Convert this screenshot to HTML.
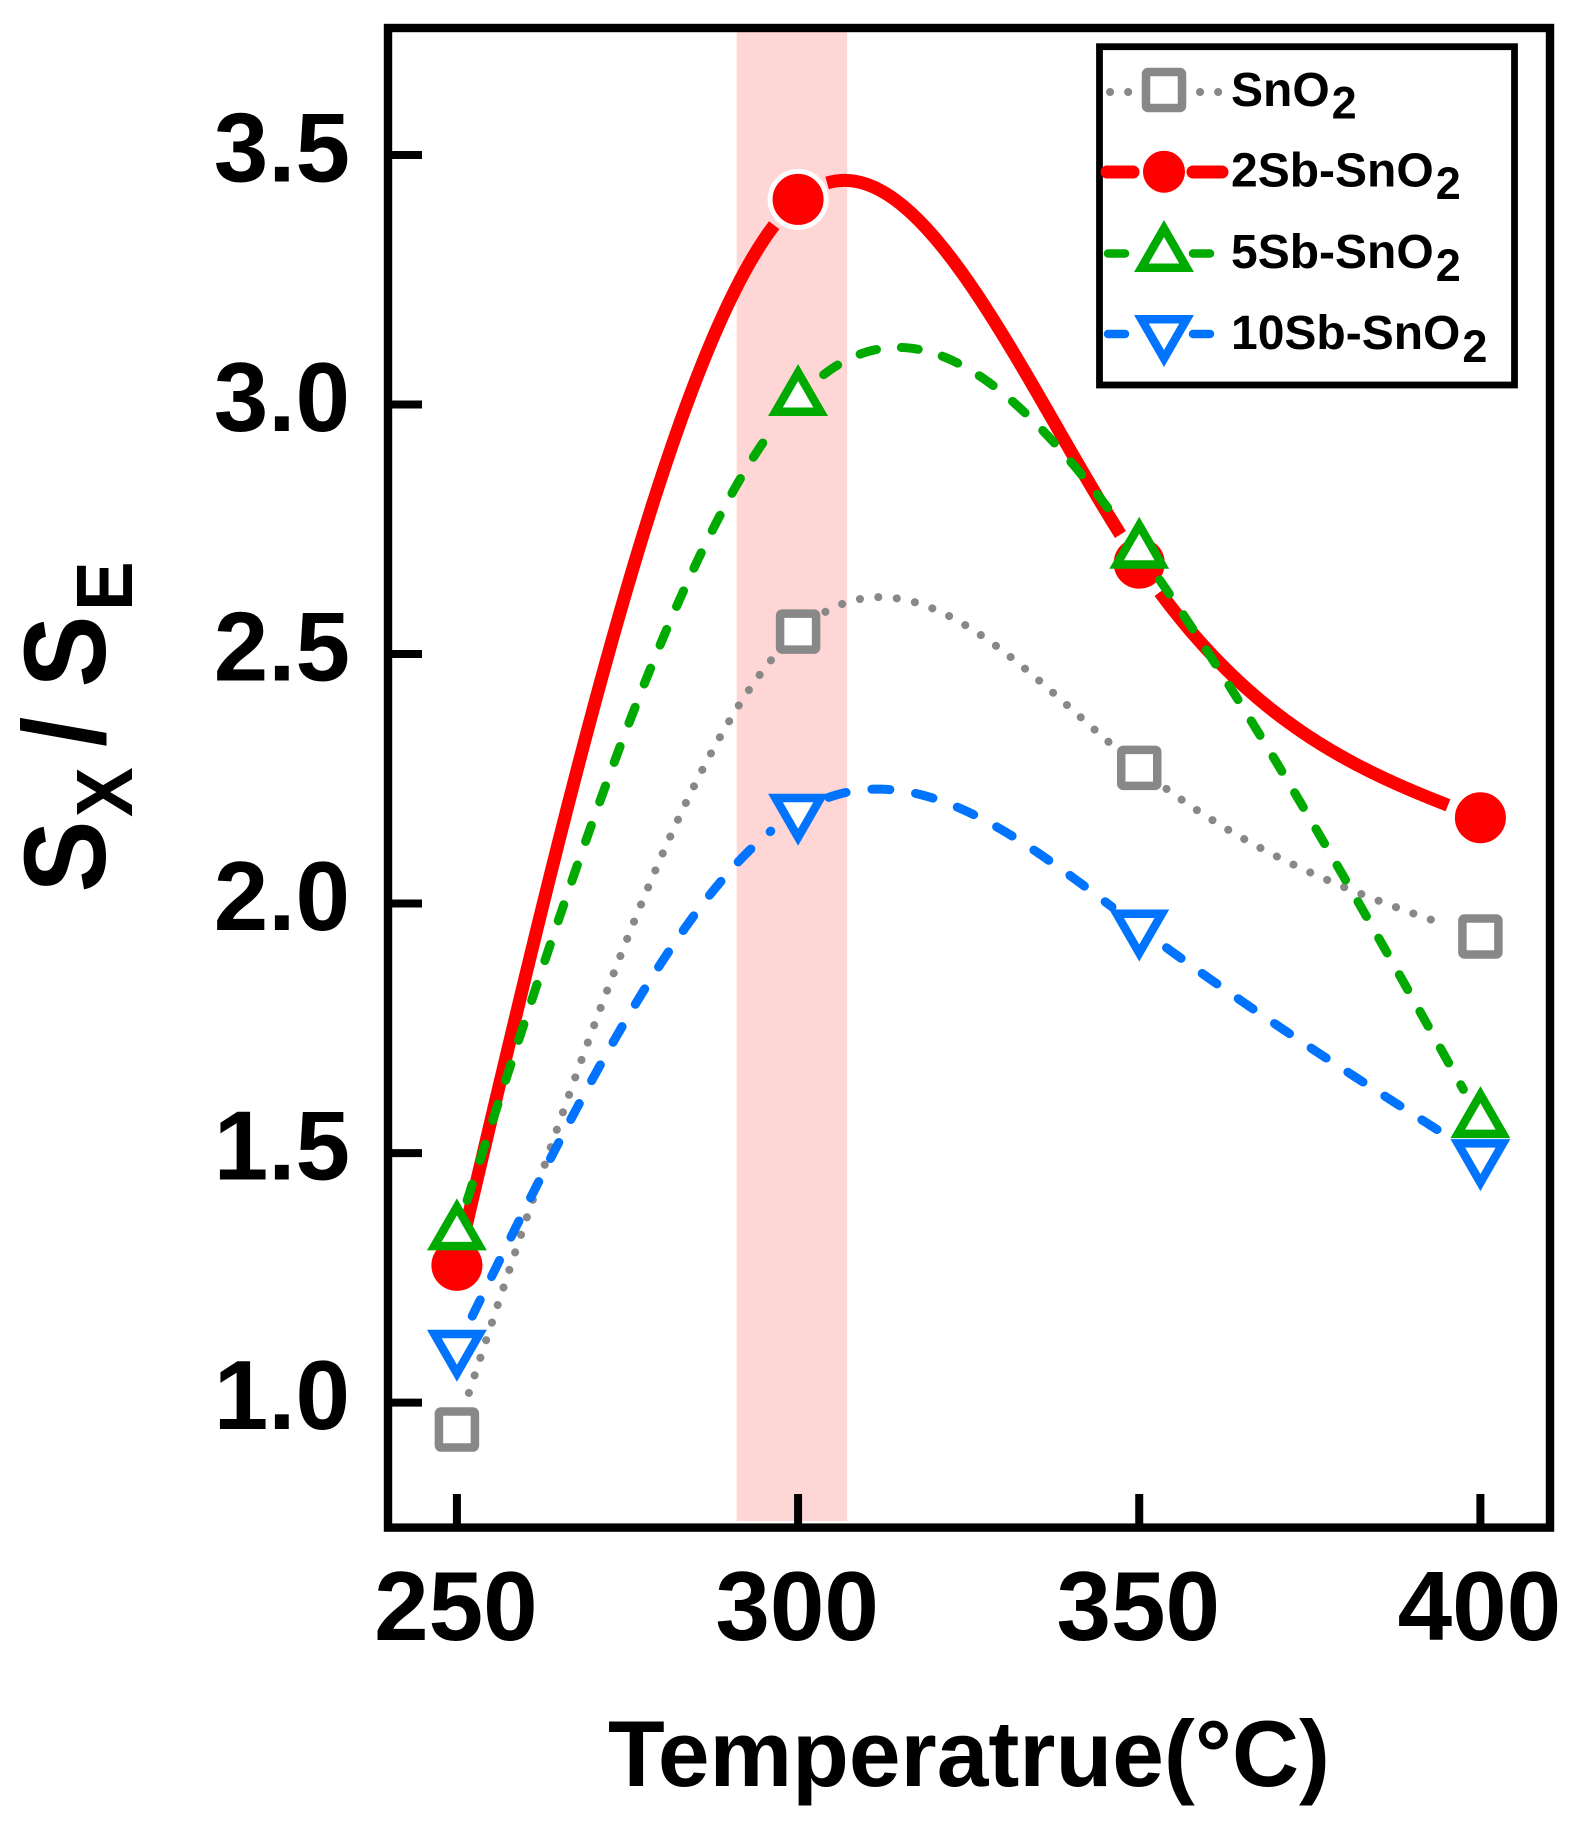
<!DOCTYPE html>
<html lang="en">
<head>
<meta charset="utf-8">
<title>Sx / SE versus temperature</title>
<style>
  html, body { margin: 0; padding: 0; background: #fff; }
  svg { display: block; }
  text { font-family: "Liberation Sans", Arial, sans-serif; font-weight: bold; fill: #000; }
</style>
</head>
<body>
<svg id="chart" xmlns="http://www.w3.org/2000/svg" width="1595" height="1825" viewBox="0 0 1595 1825">
  <rect x="0" y="0" width="1595" height="1825" fill="#ffffff"/>
  <g id="band-layer"></g>
  <g id="series-layer"></g>
  <g id="axis-layer"></g>

  <text transform="rotate(-90) scale(0.93,1)" font-size="116"><tspan x="-959.7" y="105">S</tspan><tspan x="-878.5" y="132" font-size="80">X</tspan><tspan x="-803" y="104">/</tspan><tspan x="-739.2" y="105">S</tspan><tspan x="-657" y="132" font-size="80">E</tspan></text>
  <text x="608" y="1786" font-size="94" textLength="722" lengthAdjust="spacingAndGlyphs">Temperatrue(°C)</text>

  <g>
    <rect x="1099.5" y="46.7" width="415" height="338.3" fill="#ffffff" stroke="#000000" stroke-width="6.8"/>
    <g>
      <path d="M1110 92H1129M1200 92H1220" stroke="#888888" stroke-width="8" stroke-linecap="round" stroke-dasharray="0.1 18" fill="none"/>
      <rect x="1146" y="72" width="36" height="36" rx="2" fill="#ffffff" stroke="#888888" stroke-width="8.5" stroke-linejoin="round"/>
      <text x="1231" y="106" font-size="48">SnO<tspan font-size="45" dx="2" dy="12.5">2</tspan></text>
    </g>
    <g>
      <path d="M1107 172H1133M1193 172H1222" stroke="#ff0000" stroke-width="13" stroke-linecap="round" fill="none"/>
      <circle cx="1164" cy="171.7" r="21" fill="#ff0000"/>
      <text x="1231" y="186.7" font-size="48">2Sb-SnO<tspan font-size="45" dx="2" dy="12.5">2</tspan></text>
    </g>
    <g>
      <path d="M1108 253.5H1125M1193 253.5H1210" stroke="#00aa00" stroke-width="8.5" stroke-linecap="round" fill="none"/>
      <path d="M1164 228.5L1186.6 267.75H1141.4Z" fill="#ffffff" stroke="#00aa00" stroke-width="8.5"/>
      <text x="1231" y="268" font-size="48">5Sb-SnO<tspan font-size="45" dx="2" dy="13">2</tspan></text>
    </g>
    <g>
      <path d="M1108 334H1125M1193 334H1210" stroke="#0073ff" stroke-width="8.5" stroke-linecap="round" fill="none"/>
      <path d="M1164 358.5L1186.6 319.25H1141.4Z" fill="#ffffff" stroke="#0073ff" stroke-width="8.5"/>
      <text x="1231" y="349" font-size="48">10Sb-SnO<tspan font-size="45" dx="2" dy="13">2</tspan></text>
    </g>
  </g>
</svg>

<script>
// ---- chart data ----
var temperatures = [250, 300, 350, 400];
var sno2Values  = [0.946, 2.545, 2.272, 1.934];
var sb2Values   = [1.275, 3.411, 2.682, 2.172];
var sb5Values   = [1.341, 3.013, 2.707, 1.566];
var sb10Values  = [1.110, 2.184, 1.952, 1.492];
var xTickValues = [250, 300, 350, 400];
var xTickLabels = ['250', '300', '350', '400'];
var yTickValues = [1.0, 1.5, 2.0, 2.5, 3.0, 3.5];
var yTickLabels = ['1.0', '1.5', '2.0', '2.5', '3.0', '3.5'];
var highlightRange = [291, 307.2];
var xDomain = [239.9, 410.2];
var yDomain = [0.7495, 3.7545];

// ---- axis functions ----
var plotLeft = 388, plotRight = 1550, plotTop = 28, plotBottom = 1527.6;
function xScale(t) {
  return plotLeft + (t - xDomain[0]) / (xDomain[1] - xDomain[0]) * (plotRight - plotLeft);
}
function yScale(v) {
  return plotBottom - (v - yDomain[0]) / (yDomain[1] - yDomain[0]) * (plotBottom - plotTop);
}

var SVG_NS = 'http://www.w3.org/2000/svg';
function make(tag, attrs, parent) {
  var el = document.createElementNS(SVG_NS, tag);
  for (var k in attrs) { el.setAttribute(k, attrs[k]); }
  parent.appendChild(el);
  return el;
}

// Natural cubic spline through the data points
function naturalSpline(xs, ys) {
  var n = xs.length, m = new Array(n).fill(0), i;
  var h = [], a = [], b = [], c = [], d = [];
  for (i = 0; i < n - 1; i++) { h[i] = xs[i + 1] - xs[i]; }
  for (i = 1; i < n - 1; i++) {
    a[i] = h[i - 1];
    b[i] = 2 * (h[i - 1] + h[i]);
    c[i] = h[i];
    d[i] = 6 * ((ys[i + 1] - ys[i]) / h[i] - (ys[i] - ys[i - 1]) / h[i - 1]);
  }
  for (i = 2; i < n - 1; i++) {
    var w = a[i] / b[i - 1];
    b[i] -= w * c[i - 1];
    d[i] -= w * d[i - 1];
  }
  for (i = n - 2; i >= 1; i--) {
    m[i] = (d[i] - (i < n - 2 ? c[i] * m[i + 1] : 0)) / b[i];
  }
  return function (x) {
    var j = 0;
    while (j < n - 2 && x > xs[j + 1]) { j++; }
    var A = (xs[j + 1] - x) / h[j], B = (x - xs[j]) / h[j];
    return A * ys[j] + B * ys[j + 1] +
      ((A * A * A - A) * m[j] + (B * B * B - B) * m[j + 1]) * h[j] * h[j] / 6;
  };
}

var gapRadius = 33;
function curvePath(values) {
  var f = naturalSpline(temperatures, values);
  var first = temperatures[0], last = temperatures[temperatures.length - 1];
  var d = '', pen = false;
  for (var t = first; t <= last + 1e-6; t += 0.25) {
    var px = xScale(t), py = yScale(f(t)), hidden = false;
    for (var i = 0; i < temperatures.length; i++) {
      var dx = px - xScale(temperatures[i]), dy = py - yScale(values[i]);
      if (dx * dx + dy * dy < gapRadius * gapRadius) { hidden = true; }
    }
    if (hidden) { pen = false; continue; }
    d += (pen ? 'L' : 'M') + px.toFixed(2) + ' ' + py.toFixed(2);
    pen = true;
  }
  return d;
}

function drawMarker(kind, cx, cy, color, parent) {
  if (kind === 'square') {
    return make('rect', { x: cx - 18, y: cy - 18, width: 36, height: 36, rx: 2, fill: '#ffffff', stroke: color, 'stroke-width': 8.5, 'stroke-linejoin': 'round' }, parent);
  }
  if (kind === 'circle') {
    return make('circle', { cx: cx, cy: cy, r: 28, fill: color, stroke: '#ffffff', 'stroke-width': 5 }, parent);
  }
  var d;
  if (kind === 'up') {
    d = 'M' + cx + ' ' + (cy - 25.5) + 'L' + (cx + 22.6) + ' ' + (cy + 13.75) + 'H' + (cx - 22.6) + 'Z';
  } else {
    d = 'M' + cx + ' ' + (cy + 25.5) + 'L' + (cx + 22.6) + ' ' + (cy - 13.75) + 'H' + (cx - 22.6) + 'Z';
  }
  return make('path', { d: d, fill: '#ffffff', stroke: color, 'stroke-width': 8.5 }, parent);
}

// ---- highlight band ----
var bandLayer = document.getElementById('band-layer');
var band = make('rect', {
  x: xScale(highlightRange[0]),
  y: plotTop + 4,
  width: xScale(highlightRange[1]) - xScale(highlightRange[0]),
  height: 1521 - plotTop - 4,
  fill: '#ffd6d6'
}, bandLayer);



// ---- series ----
var seriesLayer = document.getElementById('series-layer');
var seriesList = [
  { key: 'sno2', values: sno2Values, color: '#888888', width: 8, dash: '0.1 18.4', marker: 'square' },
  { key: '2sb-sno2', values: sb2Values, color: '#ff0000', width: 13, dash: 'none', marker: 'circle' },
  { key: '5sb-sno2', values: sb5Values, color: '#00aa00', width: 9, dash: '17 25', marker: 'up' },
  { key: '10sb-sno2', values: sb10Values, color: '#0073ff', width: 9, dash: '18 26', marker: 'down' }
];
seriesList.forEach(function (s) {
  var group = make('g', {}, seriesLayer);
  
  
  var line = make('path', {
    d: curvePath(s.values),
    fill: 'none',
    stroke: s.color,
    'stroke-width': s.width,
    'stroke-dasharray': s.dash,
    'stroke-linecap': s.dash === 'none' ? 'butt' : 'round'
  }, group);
  
  
  s.group = group;
});
seriesList.forEach(function (s) {
  s.values.forEach(function (v, i) {
    var mark = drawMarker(s.marker, xScale(temperatures[i]), yScale(v), s.color, s.group);
    
    
  });
});

// ---- axes ----
var axisLayer = document.getElementById('axis-layer');
var frame = make('rect', {
  x: plotLeft, y: plotTop,
  width: plotRight - plotLeft, height: plotBottom - plotTop,
  fill: 'none', stroke: '#000000', 'stroke-width': 8.4
}, axisLayer);



xTickValues.forEach(function (t, i) {
  var px = xScale(t);
  var tick = make('line', { x1: px, x2: px, y1: plotBottom, y2: 1494, stroke: '#000000', 'stroke-width': 8 }, axisLayer);
  
  
  var label = make('text', { x: px - 1, y: 1640, 'font-size': 98, 'text-anchor': 'middle' }, axisLayer);
  label.textContent = xTickLabels[i];
  
  
});

yTickValues.forEach(function (v, i) {
  var py = yScale(v);
  var tick = make('line', { x1: plotLeft, x2: 422, y1: py, y2: py, stroke: '#000000', 'stroke-width': 8 }, axisLayer);
  
  
  var label = make('text', { x: 350, y: py + 26.5, 'font-size': 98, 'text-anchor': 'end' }, axisLayer);
  label.textContent = yTickLabels[i];
  
  
});
</script>
</body>
</html>
